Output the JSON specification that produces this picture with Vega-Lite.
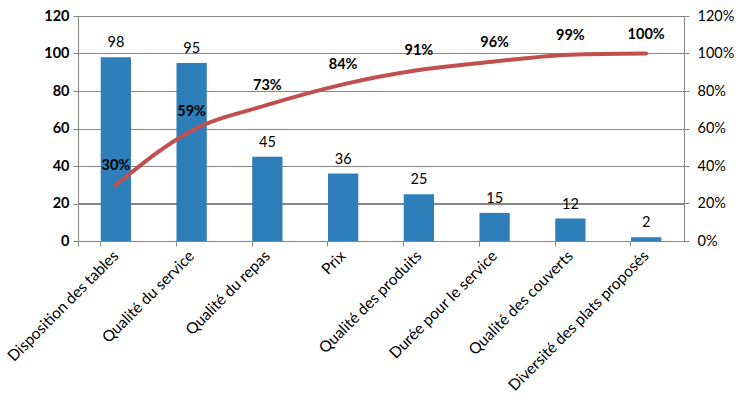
{
  "$schema": "https://vega.github.io/schema/vega-lite/v6.json",
  "width": 606,
  "height": 225,
  "autosize": {"type": "none"},
  "padding": {"left": 78, "top": 16, "right": 63, "bottom": 162},
  "background": "white",
  "data": {
    "values": [
      {"cat": "Disposition des tables", "n": 98, "cum": 0.2988, "pct": "30%"},
      {"cat": "Qualité du service", "n": 95, "cum": 0.5884, "pct": "59%"},
      {"cat": "Qualité du repas", "n": 45, "cum": 0.7256, "pct": "73%"},
      {"cat": "Prix", "n": 36, "cum": 0.8354, "pct": "84%"},
      {"cat": "Qualité des produits", "n": 25, "cum": 0.9116, "pct": "91%"},
      {"cat": "Durée pour le service", "n": 15, "cum": 0.9573, "pct": "96%"},
      {"cat": "Qualité des couverts", "n": 12, "cum": 0.9939, "pct": "99%"},
      {"cat": "Diversité des plats proposés", "n": 2, "cum": 1.0, "pct": "100%"}
    ]
  },
  "config": {
    "view": {"stroke": null},
    "font": "Lato",
    "axis": {
      "domainColor": "#868686",
      "tickColor": "#868686",
      "gridColor": "#868686",
      "gridOpacity": 1,
      "labelColor": "#000000",
      "labelFont": "Lato",
      "labelFontSize": 14.5,
      "labelOverlap": false,
      "labelLimit": 400,
      "tickSize": 5
    }
  },
  "encoding": {
    "x": {
      "field": "cat", "type": "nominal", "sort": null,
      "scale": {"paddingInner": 0.6, "paddingOuter": 0.3},
      "axis": {
        "title": null, "labelAngle": -45, "labelAlign": "right",
        "labelBaseline": "middle", "bandPosition": 0, "tickExtra": true,
        "labelPadding": 7, "grid": false, "labelFontSize": 15.5, "labelLimit": 400
      }
    }
  },
  "layer": [
    {
      "encoding": {
        "y": {
          "field": "n", "type": "quantitative",
          "scale": {"domain": [0, 120]},
          "axis": {
            "title": null, "values": [0, 20, 40, 60, 80, 100, 120],
            "labelFontWeight": "bold", "grid": true, "labelPadding": 4
          }
        }
      },
      "layer": [
        {"mark": {"type": "bar", "color": "#2E7EBA"}},
        {
          "mark": {"type": "text", "baseline": "bottom", "dy": -7, "fontSize": 14.5, "font": "Lato", "color": "#000000"},
          "encoding": {"text": {"field": "n", "type": "quantitative"}}
        }
      ]
    },
    {
      "encoding": {
        "y": {
          "field": "cum", "type": "quantitative",
          "scale": {"domain": [0, 1.2]},
          "axis": {
            "title": null, "orient": "right", "format": ".0%",
            "values": [0, 0.2, 0.4, 0.6, 0.8, 1.0, 1.2],
            "grid": true, "labelPadding": 8
          }
        }
      },
      "layer": [
        {"mark": {"type": "line", "color": "#C0504D", "strokeWidth": 4, "interpolate": "monotone", "strokeCap": "round"}},
        {
          "mark": {"type": "text", "baseline": "bottom", "dy": -12, "fontSize": 14.5, "fontWeight": "bold", "font": "Lato", "color": "#000000"},
          "encoding": {"text": {"field": "pct", "type": "nominal"}}
        }
      ]
    }
  ],
  "resolve": {"scale": {"y": "independent"}}
}
